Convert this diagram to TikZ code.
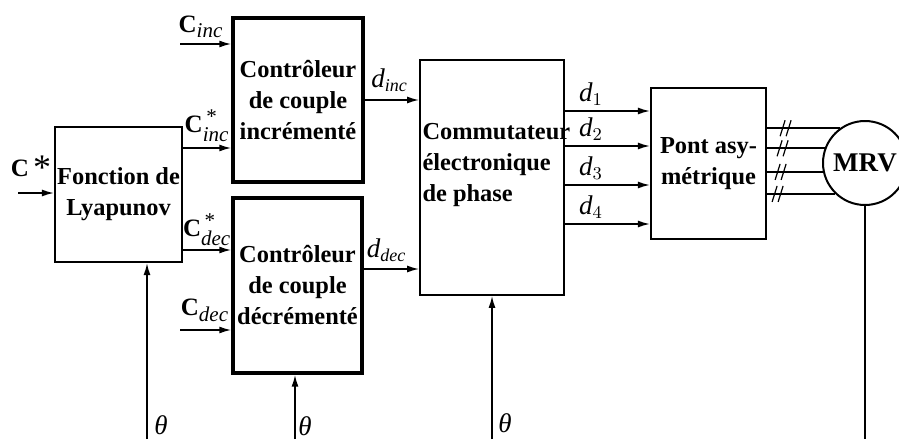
\documentclass[tikz,border=0pt]{standalone}
\usepackage{amsmath}
\usepackage{fontspec}
\setmainfont{Liberation Serif}
\usetikzlibrary{arrows.meta, positioning, calc}
\DeclareMathSizes{12.5}{12.5}{10.5}{7.5}
\DeclareMathSizes{13.5}{13.5}{9}{7}

\begin{document}
\begin{tikzpicture}[x=0.5pt, y=-0.5pt,
    block/.style = {rectangle, draw, line width=1.1pt, inner sep=1pt,
                    align=center, font=\fontsize{12.2}{15.5}\selectfont\bfseries},
    motor/.style = {circle, draw, line width=1pt, minimum size=42pt,
                    inner sep=0pt, font=\fontsize{13.5}{16}\selectfont\bfseries},
    sig/.style   = {-{Latex[length=6pt, width=3.5pt]}, line width=0.8pt},
    wire/.style  = {line width=0.8pt},
    lbl/.style   = {font=\fontsize{12.5}{15}\selectfont, inner sep=0pt},
    dlbl/.style  = {font=\fontsize{13.5}{15}\selectfont, inner sep=0pt},
]
\useasboundingbox (0,0) rectangle (899,439);

%% ---- Blocks ----
\node[block, minimum width=63.5pt, minimum height=67.5pt] (lyap) at (118.5,194.5)
    {Fonction de\\Lyapunov};
\node[block, line width=1.7pt, minimum width=65pt, minimum height=82pt] (ctrlinc) at (298,100)
    {Contrôleur\\de couple\\incrémenté};
\node[block, line width=1.7pt, minimum width=64.5pt, minimum height=87.5pt] (ctrldec) at (297.5,285.5)
    {Contrôleur\\de couple\\décrémenté};
\node[block, line width=0.9pt, minimum width=72pt, minimum height=117.5pt,
      label={[font=\fontsize{12.2}{15.5}\selectfont\bfseries, align=left, anchor=west,
              inner sep=0pt, xshift=1.5pt, yshift=6pt]west:Commutateur\\ électronique\\ de phase}]
      (comm) at (492,177.5) {};
\node[block, minimum width=57.5pt, minimum height=75.5pt] (pont) at (708.5,163.5)
    {Pont asy-\\métrique};
\node[motor] (mrv) at (865,163) {MRV};

%% ---- Free ends ----
\coordinate (cstar)  at (18,193);
\coordinate (cinc)   at (180,44);
\coordinate (cdec)   at (180,330);
\coordinate (lyinc)  at ([yshift=23.25pt]lyap.east);
\coordinate (lydec)  at ([yshift=-27.75pt]lyap.east);
\coordinate (ddec)   at ([yshift=8.25pt]ctrldec.east);
\coordinate (thlyap) at (147,439);
\coordinate (thdec)  at (295,439);
\coordinate (thcomm) at (492,439);

%% ---- Inputs ----
\draw[sig] (cstar) -- (cstar -| lyap.west);
\draw[sig] (cinc)  -- (cinc -| ctrlinc.west);
\draw[sig] (lyinc) -- (lyinc -| ctrlinc.west);
\draw[sig] (lydec) -- (lydec -| ctrldec.west);
\draw[sig] (cdec)  -- (cdec -| ctrldec.west);
\draw[sig] (ctrlinc.east) -- (ctrlinc.east -| comm.west);
\draw[sig] (ddec) -- (ddec -| comm.west);

\node[lbl] (lcstar) at ([shift={(13,-25)}]cstar)
    {\textbf{C}\hspace{2pt}\raisebox{-1.5pt}{\fontsize{18}{18}\selectfont *}};
\node[lbl] (lcinc)  at ([shift={(21,-17)}]cinc)  {$\textbf{C}_{\textit{inc}}$};
\node[lbl] (lyinclbl) at ([shift={(24,-22)}]lyinc) {$\textbf{C}^{\,\text{*}}_{\textit{inc}}$};
\node[lbl] (lydeclbl) at ([shift={(24,-20)}]lydec) {$\textbf{C}^{\,\text{*}}_{\textit{dec}}$};
\node[lbl] (lcdec)  at ([shift={(25,-20)}]cdec)  {$\textbf{C}_{\textit{dec}}$};
\node[dlbl] (ldinc) at ([shift={(25,-20)}]ctrlinc.east) {$\textit{d}_{\textit{inc}}$};
\node[dlbl] (lddec) at ([shift={(23,-19)}]ddec)  {$\textit{d}_{\textit{dec}}$};

%% ---- Phase signals ----
\foreach \i/\dy in {1/33.25, 2/15.75, 3/-3.75, 4/-23.25} {
    \coordinate (d\i) at ([yshift=\dy pt]comm.east);
    \draw[sig] (d\i) -- (d\i -| pont.west);
    \node[dlbl, anchor=south] at ([shift={(26,-5)}]d\i) {$\textit{d}_{\i}$};
}

%% ---- Motor windings ----
\foreach \a/\sx in {126/17, 160/14, 192/12, 226/9} {
    \coordinate (w) at (pont.east |- mrv.\a);
    \draw[wire] (w) -- (mrv.\a);
    \draw[line width=0.6pt] ([shift={(\sx-4,8)}]w) -- ([shift={(\sx+1,-8)}]w);
    \draw[line width=0.6pt] ([shift={(\sx+2,8)}]w) -- ([shift={(\sx+7,-8)}]w);
}
\draw[wire] (mrv.south) -- (mrv.south |- thlyap);

%% ---- Position feedback ----
\draw[sig] (thlyap) -- (thlyap |- lyap.south);
\draw[sig] (thdec)  -- (thdec |- ctrldec.south);
\draw[sig] (thcomm) -- (thcomm |- comm.south);
\node[dlbl] (lth1) at ([shift={(14,-14)}]thlyap) {\textit{θ}};
\node[dlbl] (lth2) at ([shift={(10,-13)}]thdec)  {\textit{θ}};
\node[dlbl] (lth3) at ([shift={(13,-16)}]thcomm) {\textit{θ}};

\end{tikzpicture}
\end{document}
